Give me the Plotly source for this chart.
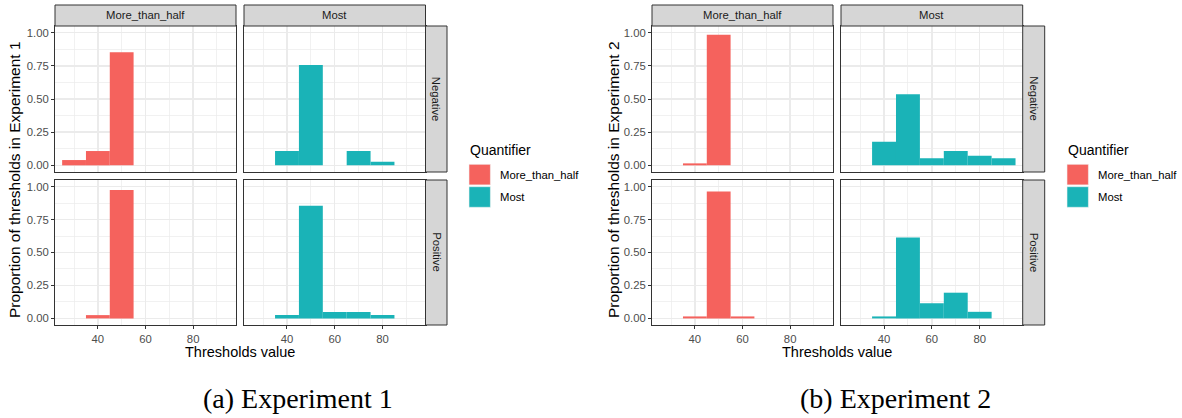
import plotly.graph_objects as go

# ---------------- data ----------------
bin_centers = [30, 40, 50, 60, 70, 80, 90]
quantifiers = ["More_than_half", "Most"]
polarities = ["Negative", "Positive"]
tick_x = [40, 60, 80]
tick_y = [0, 0.25, 0.5, 0.75, 1.0]

exp1_mth_neg = [0.040, 0.108, 0.852, 0, 0, 0, 0]
exp1_most_neg = [0, 0.108, 0.756, 0, 0.108, 0.028, 0]
exp1_mth_pos = [0, 0.025, 0.975, 0, 0, 0, 0]
exp1_most_pos = [0, 0.025, 0.855, 0.048, 0.048, 0.025, 0]

exp2_mth_neg = [0, 0.015, 0.985, 0, 0, 0, 0]
exp2_most_neg = [0, 0.178, 0.535, 0.053, 0.108, 0.073, 0.053]
exp2_mth_pos = [0, 0.015, 0.962, 0.015, 0, 0, 0]
exp2_most_pos = [0, 0.015, 0.614, 0.115, 0.195, 0.050, 0]

colors = {"More_than_half": "#F5625D", "Most": "#1AB3B7"}

W, H = 1182, 418
def fx(p):
    return p / W
def fy(p):
    return 1 - p / H

FONT = "Liberation Sans"

experiments = [
    dict(name="Experiment 1", caption="(a) Experiment 1", cap_x=298,
         cols=[(55, 236), (244, 425.5)], strip_r=(425.5, 447),
         ytitle_x=14, xtitle_x=240, leg_x=469,
         data={("Negative", "More_than_half"): exp1_mth_neg,
               ("Negative", "Most"): exp1_most_neg,
               ("Positive", "More_than_half"): exp1_mth_pos,
               ("Positive", "Most"): exp1_most_pos}),
    dict(name="Experiment 2", caption="(b) Experiment 2", cap_x=895,
         cols=[(652, 833), (841, 1022.7)], strip_r=(1022.7, 1044.7),
         ytitle_x=613, xtitle_x=837, leg_x=1067,
         data={("Negative", "More_than_half"): exp2_mth_neg,
               ("Negative", "Most"): exp2_most_neg,
               ("Positive", "More_than_half"): exp2_mth_pos,
               ("Positive", "Most"): exp2_most_pos}),
]
rows = [(26, 172), (180, 325)]
strip_top = (5, 26)

fig = go.Figure()
layout = {}
shapes = []
annotations = []

k = 0
for ex in experiments:
    for ri, pol in enumerate(polarities):
        for ci, q in enumerate(quantifiers):
            k += 1
            xa = "x" if k == 1 else f"x{k}"
            ya = "y" if k == 1 else f"y{k}"
            vals = ex["data"][(pol, q)]
            xs = [c for c, v in zip(bin_centers, vals) if v > 0]
            ys = [v for v in vals if v > 0]
            fig.add_trace(go.Bar(x=xs, y=ys, width=10, xaxis=xa, yaxis=ya,
                                 marker=dict(color=colors[q], line=dict(width=0)),
                                 showlegend=False, hoverinfo="skip"))
            x0, x1 = ex["cols"][ci]
            y0, y1 = rows[ri]
            show_x = ri == 1
            show_y = ci == 0
            layout["xaxis" if k == 1 else f"xaxis{k}"] = dict(
                domain=[fx(x0), fx(x1)], anchor=ya, range=[22, 98],
                tickvals=tick_x, showticklabels=show_x,
                ticks="outside" if show_x else "", ticklen=3, tickcolor="#333333",
                tickfont=dict(family=FONT, size=11.3, color="#4D4D4D"),
                showgrid=True, gridcolor="#EBEBEB", gridwidth=1.4,
                minor=dict(tickvals=[30, 50, 70, 90], showgrid=True,
                           gridcolor="#EBEBEB", gridwidth=0.7, ticks=""),
                showline=True, mirror=True, linecolor="#333333", linewidth=1,
                zeroline=False, fixedrange=True)
            layout["yaxis" if k == 1 else f"yaxis{k}"] = dict(
                domain=[fy(y1), fy(y0)], anchor=xa, range=[-0.05, 1.05],
                tickvals=tick_y, tickformat=".2f", showticklabels=show_y,
                ticks="outside" if show_y else "", ticklen=3, tickcolor="#333333",
                tickfont=dict(family=FONT, size=11.3, color="#4D4D4D"),
                showgrid=True, gridcolor="#EBEBEB", gridwidth=1.4,
                minor=dict(tickvals=[0.125, 0.375, 0.625, 0.875], showgrid=True,
                           gridcolor="#EBEBEB", gridwidth=0.7, ticks=""),
                showline=True, mirror=True, linecolor="#333333", linewidth=1,
                zeroline=False, fixedrange=True)

    # top strips
    for ci, q in enumerate(quantifiers):
        x0, x1 = ex["cols"][ci]
        shapes.append(dict(type="rect", xref="paper", yref="paper",
                           x0=fx(x0), x1=fx(x1), y0=fy(strip_top[1]), y1=fy(strip_top[0]),
                           fillcolor="#D6D6D6", line=dict(color="#333333", width=1)))
        annotations.append(dict(text=q, xref="paper", yref="paper",
                                x=fx((x0 + x1) / 2), y=fy((strip_top[0] + strip_top[1]) / 2),
                                showarrow=False, xanchor="center", yanchor="middle",
                                font=dict(family=FONT, size=11.3, color="#1A1A1A")))
    # right strips
    sx0, sx1 = ex["strip_r"]
    for ri, pol in enumerate(polarities):
        y0, y1 = rows[ri]
        shapes.append(dict(type="rect", xref="paper", yref="paper",
                           x0=fx(sx0), x1=fx(sx1), y0=fy(y1), y1=fy(y0),
                           fillcolor="#D6D6D6", line=dict(color="#333333", width=1)))
        annotations.append(dict(text=pol, xref="paper", yref="paper",
                                x=fx((sx0 + sx1) / 2), y=fy((y0 + y1) / 2), textangle=90,
                                showarrow=False, xanchor="center", yanchor="middle",
                                font=dict(family=FONT, size=11.3, color="#1A1A1A")))
    # axis titles
    annotations.append(dict(text="Thresholds value", xref="paper", yref="paper",
                            x=fx(ex["xtitle_x"]), y=fy(352), showarrow=False,
                            xanchor="center", yanchor="middle",
                            font=dict(family=FONT, size=14.5, color="black")))
    annotations.append(dict(text="Proportion of thresholds in " + ex["name"],
                            xref="paper", yref="paper", textangle=-90,
                            x=fx(ex["ytitle_x"]), y=fy(180), showarrow=False,
                            xanchor="center", yanchor="middle",
                            font=dict(family=FONT, size=15.5, color="black")))
    # legend (drawn)
    lx = ex["leg_x"]
    annotations.append(dict(text="Quantifier", xref="paper", yref="paper",
                            x=fx(lx - 1), y=fy(150), showarrow=False,
                            xanchor="left", yanchor="middle",
                            font=dict(family=FONT, size=14, color="black")))
    for i, q in enumerate(quantifiers):
        ky0 = 164.3 + i * 22.4
        shapes.append(dict(type="rect", xref="paper", yref="paper",
                           x0=fx(lx), x1=fx(lx + 21.4), y0=fy(ky0 + 20.6), y1=fy(ky0),
                           fillcolor=colors[q], line=dict(color="#F2F2F2", width=0.6)))
        annotations.append(dict(text=q, xref="paper", yref="paper",
                                x=fx(lx + 29), y=fy(ky0 + 10.5), showarrow=False,
                                xanchor="left", yanchor="middle",
                                font=dict(family=FONT, size=11.3, color="black")))
    # caption
    annotations.append(dict(text=ex["caption"], xref="paper", yref="paper",
                            x=fx(ex["cap_x"]), y=fy(398), showarrow=False,
                            xanchor="center", yanchor="middle",
                            font=dict(family="Liberation Serif", size=28, color="black")))

fig.update_layout(**layout)
fig.update_layout(width=W, height=H, autosize=False,
                  margin=dict(l=0, r=0, t=0, b=0),
                  paper_bgcolor="white", plot_bgcolor="white",
                  shapes=shapes, annotations=annotations, showlegend=False,
                  barmode="overlay")

fig.write_html("out.html", config={"displayModeBar": False, "staticPlot": True},
               post_script="document.body.style.margin='0px';document.body.style.overflow='hidden';")
